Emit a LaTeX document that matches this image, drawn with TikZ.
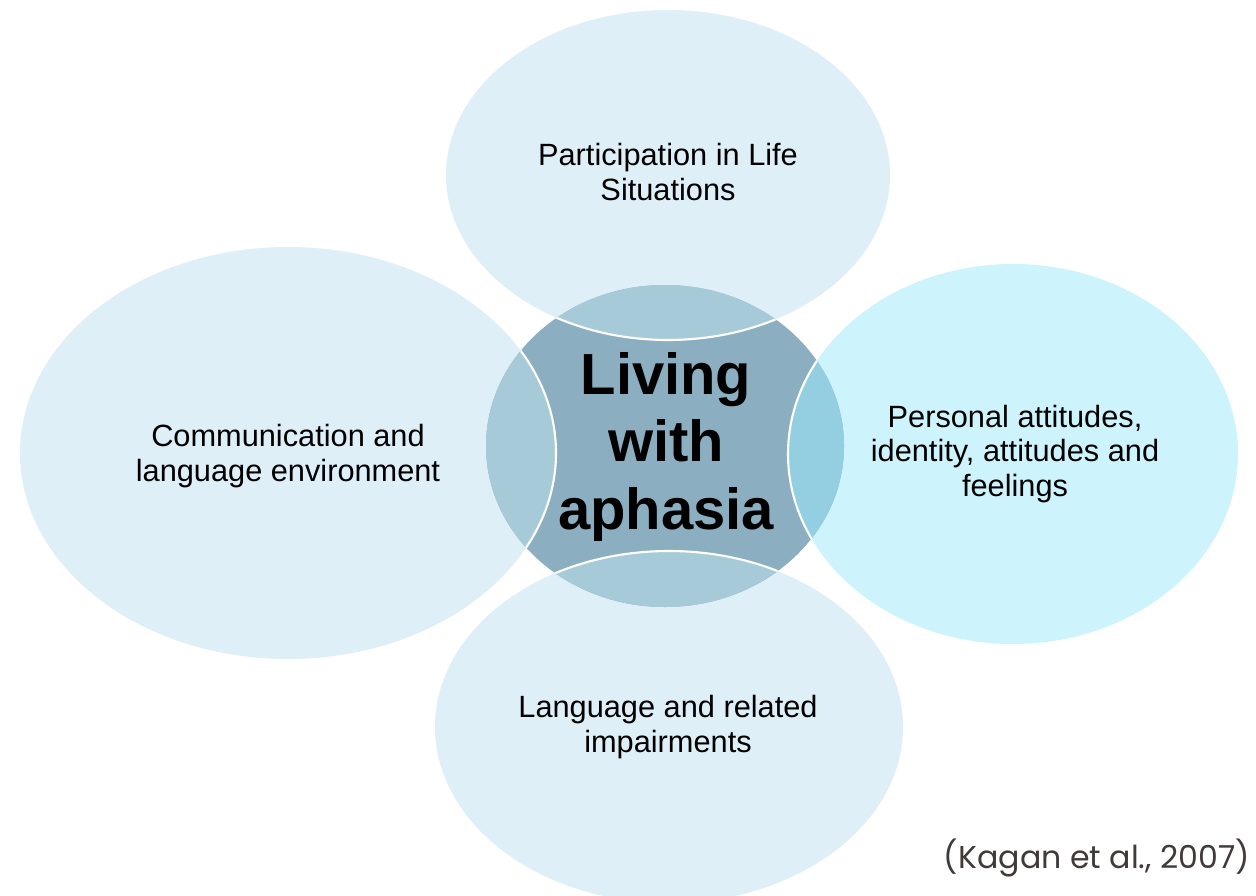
\documentclass[tikz,border=0pt]{standalone}
\usepackage{fontspec}
\setmainfont{Liberation Sans}
\newfontfamily\citefont{Poppins}
\usepackage{xcolor}

\definecolor{petal}{RGB}{222,239,248}
\definecolor{petalcyan}{RGB}{205,244,253}
\definecolor{hub}{RGB}{139,175,192}
\definecolor{hubmix}{RGB}{167,202,217}
\definecolor{hubcyan}{RGB}{147,207,224}
\definecolor{citegray}{RGB}{64,59,56}

\tikzset{
  petal text/.style={align=center, text=black, font=\fontsize{17.5}{19.8}\selectfont},
  hub text/.style={align=center, text=black, font=\bfseries\fontsize{33}{38.5}\selectfont},
  cite text/.style={anchor=east, inner sep=0pt, text=citegray, font=\citefont\fontsize{18}{20}\selectfont},
  seam/.style={draw=white, line width=1.2pt}
}

% outlines of the four petals and the hub (pixel units, y down)
\newcommand\toppetal{(668,175) ellipse [x radius=222, y radius=165]}
\newcommand\leftpetal{(288,453) ellipse [x radius=268, y radius=206]}
\newcommand\rightpetal{(1013,454) ellipse [x radius=225, y radius=190]}
\newcommand\bottompetal{(669,727) ellipse [x radius=234, y radius=176]}
\newcommand\hubshape{(665,446) ellipse [x radius=179, y radius=161]}

\begin{document}
\begin{tikzpicture}[x=0.02cm, y=-0.02cm]
  \useasboundingbox (0,0) rectangle (1256,895);
  \clip (0,0) rectangle (1256,895);

  % petals
  \fill[petal] \toppetal;
  \fill[petal] \leftpetal;
  \fill[petalcyan] \rightpetal;
  \fill[petal] \bottompetal;

  % hub and the parts the petals cover
  \fill[hub] \hubshape;
  \begin{scope}
    \clip \hubshape;
    \fill[hubmix] \toppetal;
    \fill[hubmix] \leftpetal;
    \fill[hubcyan] \rightpetal;
    \fill[hubmix] \bottompetal;
    \path[seam] \toppetal;
    \path[seam] \leftpetal;
    \path[seam] \rightpetal;
    \path[seam] \bottompetal;
  \end{scope}

  % labels
  \node[petal text] (life) at (668,172) {Participation in Life\\Situations};
  \node[petal text] (environment) at (288,456) {Communication and\\language environment};
  \node[petal text] (identity) at (1015,454) {Personal attitudes,\\identity, attitudes and\\feelings};
  \node[petal text] (impairment) at (668,727) {Language and related\\impairments};
  \node[hub text] (hub) at (666,447) {Living\\with\\aphasia};
  \node[cite text] (source) at (1250,858) {(Kagan et al., 2007)};
\end{tikzpicture}
\end{document}
